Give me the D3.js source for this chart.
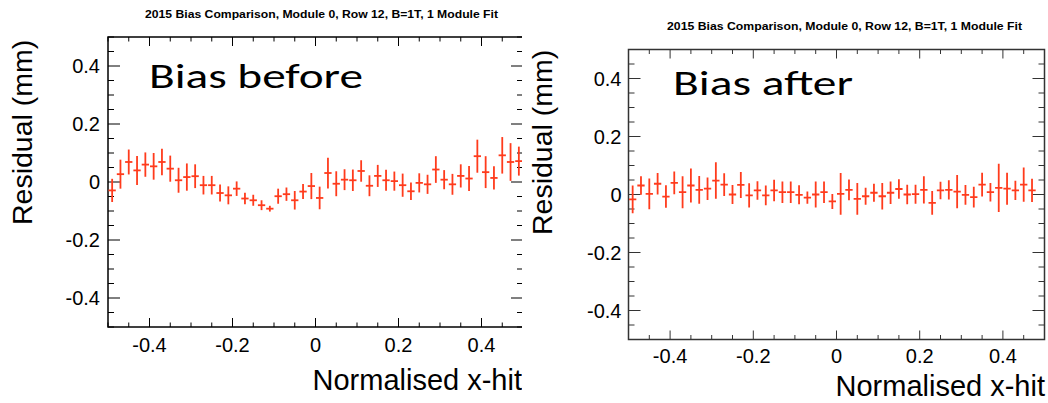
<!DOCTYPE html>
<html>
<head>
<meta charset="utf-8">
<script src="https://cdn.jsdelivr.net/npm/d3@7"></script>
<style>
body { margin: 0; background: #fff; }
svg { display: block; }
</style>
</head>
<body>
<div id="chart"></div>
<script>
// bin centres of the normalised x-hit histogram
var xBins = [-0.49, -0.47, -0.45, -0.43, -0.41, -0.39, -0.37, -0.35, -0.33, -0.31,
             -0.29, -0.27, -0.25, -0.23, -0.21, -0.19, -0.17, -0.15, -0.13, -0.11,
             -0.09, -0.07, -0.05, -0.03, -0.01, 0.01, 0.03, 0.05, 0.07, 0.09,
             0.11, 0.13, 0.15, 0.17, 0.19, 0.21, 0.23, 0.25, 0.27, 0.29,
             0.31, 0.33, 0.35, 0.37, 0.39, 0.41, 0.43, 0.45, 0.47, 0.49];
var binHalf = 0.01;

var beforeY = [-0.029, 0.027, 0.069, 0.040, 0.060, 0.054, 0.069, 0.046, 0.006, 0.017,
               0.020, -0.011, -0.011, -0.038, -0.046, -0.023, -0.057, -0.063, -0.080, -0.092,
               -0.049, -0.042, -0.063, -0.033, -0.014, -0.055, 0.031, -0.006, 0.008, 0.006,
               0.038, -0.013, 0.021, 0.006, 0.003, -0.011, -0.032, -0.003, -0.008, 0.043,
               0.008, -0.008, 0.021, 0.012, 0.089, 0.034, 0.014, 0.092, 0.069, 0.072];
var beforeErr = [0.040, 0.050, 0.043, 0.050, 0.042, 0.046, 0.046, 0.045, 0.043, 0.047,
                 0.041, 0.032, 0.032, 0.029, 0.031, 0.025, 0.020, 0.019, 0.017, 0.010,
                 0.026, 0.023, 0.032, 0.026, 0.045, 0.039, 0.053, 0.043, 0.036, 0.037,
                 0.037, 0.036, 0.038, 0.036, 0.033, 0.040, 0.030, 0.033, 0.033, 0.046,
                 0.033, 0.036, 0.040, 0.043, 0.057, 0.055, 0.040, 0.063, 0.065, 0.050];

var afterY = [-0.017, 0.031, 0.002, 0.037, -0.007, 0.040, 0.008, 0.031, 0.016, 0.020,
              0.048, 0.034, 0.000, 0.033, -0.003, 0.014, -0.003, 0.014, 0.008, 0.008,
              -0.001, -0.011, 0.000, 0.008, -0.024, 0.002, 0.016, -0.015, -0.006, 0.006,
              -0.006, 0.006, 0.019, 0.000, 0.001, 0.016, -0.029, 0.014, 0.016, 0.010,
              -0.001, -0.009, 0.034, 0.008, 0.023, 0.020, 0.014, 0.034, 0.014, null];
var afterErr = [0.048, 0.032, 0.053, 0.037, 0.039, 0.039, 0.055, 0.059, 0.048, 0.039,
                0.063, 0.039, 0.033, 0.045, 0.042, 0.032, 0.034, 0.037, 0.037, 0.037,
                0.033, 0.021, 0.045, 0.037, 0.026, 0.072, 0.036, 0.055, 0.029, 0.031,
                0.046, 0.039, 0.034, 0.034, 0.033, 0.047, 0.041, 0.030, 0.033, 0.057,
                0.034, 0.036, 0.041, 0.032, 0.083, 0.055, 0.033, 0.059, 0.040, null];

var xMajor = [-0.4, -0.2, 0, 0.2, 0.4];
var yMajor = [-0.4, -0.2, 0, 0.2, 0.4];
var titleText = "2015 Bias Comparison, Module 0, Row 12, B=1T, 1 Module Fit";
var xTitle = "Normalised x-hit";
var yTitle = "Residual (mm)";

var RED = "#ff3b1c";
var TICKFONT = "'Liberation Sans', Arial, Helvetica, sans-serif";

var svg = d3.select("#chart").append("svg")
    .attr("width", 1048)
    .attr("height", 403);

var defs = svg.append("defs");

function fmt(d) {
    return String(Math.round(d * 10) / 10);
}

function drawPanel(p) {
    var x = d3.scaleLinear().domain([-0.5, 0.5]).range([p.x0, p.x1]);
    var y = d3.scaleLinear().domain([-0.5, 0.5]).range([p.y1, p.y0]);

    defs.append("clipPath").attr("id", "cut_" + p.id)
        .append("rect")
        .attr("x", p.cutX0).attr("y", 0)
        .attr("width", p.cutX1 - p.cutX0).attr("height", 403);
    defs.append("clipPath").attr("id", "plot_" + p.id)
        .append("rect")
        .attr("x", p.x0).attr("y", p.y0)
        .attr("width", p.x1 - p.x0).attr("height", p.y1 - p.y0);

    var g = svg.append("g").attr("clip-path", "url(#cut_" + p.id + ")");

    // title
    g.append("text")
        .attr("x", p.titleX).attr("y", p.titleY)
        .attr("font-family", TICKFONT).attr("font-weight", "bold")
        .attr("font-size", 10)
        .attr("textLength", p.titleLen).attr("lengthAdjust", "spacingAndGlyphs")
        .text(titleText);

    // minor ticks every 0.05, major every 0.2
    var minor = x.ticks(20).filter(function(v) {
        return Math.abs(Math.round(v * 5) - v * 5) > 1e-6;
    });

    var ax = g.append("g").attr("stroke", p.frame).attr("stroke-width", 1);
    // bottom & top
    ax.selectAll(".xb").data(xMajor.concat(minor)).enter().append("line")
        .attr("x1", function(d) { return x(d); }).attr("x2", function(d) { return x(d); })
        .attr("y1", p.y1)
        .attr("y2", function(d) { return p.y1 - (xMajor.indexOf(d) >= 0 ? 9 : 4.5); });
    ax.selectAll(".xt").data(xMajor.concat(minor)).enter().append("line")
        .attr("x1", function(d) { return x(d); }).attr("x2", function(d) { return x(d); })
        .attr("y1", p.y0)
        .attr("y2", function(d) { return p.y0 + (xMajor.indexOf(d) >= 0 ? 9 : 4.5); });
    // left & right
    var yminor = y.ticks(20).filter(function(v) {
        return Math.abs(Math.round(v * 5) - v * 5) > 1e-6;
    });
    ax.selectAll(".yl").data(yMajor.concat(yminor)).enter().append("line")
        .attr("y1", function(d) { return y(d); }).attr("y2", function(d) { return y(d); })
        .attr("x1", p.x0)
        .attr("x2", function(d) { return p.x0 + (yMajor.indexOf(d) >= 0 ? 12 : 6); });
    ax.selectAll(".yr").data(yMajor.concat(yminor)).enter().append("line")
        .attr("y1", function(d) { return y(d); }).attr("y2", function(d) { return y(d); })
        .attr("x1", p.x1)
        .attr("x2", function(d) { return p.x1 - (yMajor.indexOf(d) >= 0 ? 12 : 6); });

    g.append("rect")
        .attr("x", p.x0).attr("y", p.y0)
        .attr("width", p.x1 - p.x0).attr("height", p.y1 - p.y0)
        .attr("fill", "none").attr("stroke", p.frame).attr("stroke-width", 1.5);

    // tick labels
    g.selectAll(".xlab").data(xMajor).enter().append("text")
        .attr("x", function(d) { return x(d); })
        .attr("y", p.xTickY)
        .attr("text-anchor", "middle")
        .attr("font-family", TICKFONT).attr("font-size", 20)
        .text(fmt);
    g.selectAll(".ylab").data(yMajor).enter().append("text")
        .attr("x", p.yTickX)
        .attr("y", function(d) { return y(d) + 7; })
        .attr("text-anchor", "end")
        .attr("font-family", TICKFONT).attr("font-size", 20)
        .text(fmt);

    // axis titles
    g.append("text")
        .attr("x", p.xTitleX).attr("y", p.xTitleY)
        .attr("text-anchor", "end")
        .attr("font-family", TICKFONT).attr("font-size", 29)
        .text(xTitle);
    g.append("text")
        .attr("transform", "translate(" + p.yTitleX + "," + p.yTitleY + ") rotate(-90)")
        .attr("font-family", TICKFONT).attr("font-size", 28.5)
        .text(yTitle);

    // big annotation
    g.append("text")
        .attr("x", p.bigX).attr("y", p.bigY)
        .attr("font-family", "Carlito, 'Open Sans', Lato, sans-serif").attr("font-size", 35)
        .attr("textLength", p.bigLen).attr("lengthAdjust", "spacingAndGlyphs")
        .text(p.big);

    // data points with errors
    var pts = xBins.map(function(c, i) {
        return {x: c, v: p.values[i], e: p.errs[i]};
    }).filter(function(d) { return d.v !== null; });

    var dg = g.append("g")
        .attr("clip-path", "url(#plot_" + p.id + ")")
        .attr("stroke", RED).attr("stroke-width", 1.8);
    dg.selectAll(".eb").data(pts).enter().append("line")
        .attr("x1", function(d) { return x(d.x); })
        .attr("x2", function(d) { return x(d.x); })
        .attr("y1", function(d) { return y(d.v - d.e); })
        .attr("y2", function(d) { return y(d.v + d.e); });
    dg.selectAll(".hb").data(pts).enter().append("line")
        .attr("x1", function(d) { return x(d.x - binHalf) + 0.5; })
        .attr("x2", function(d) { return x(d.x + binHalf) - 0.5; })
        .attr("y1", function(d) { return y(d.v); })
        .attr("y2", function(d) { return y(d.v); });
}

drawPanel({
    id: "before", x0: 108, x1: 523, y0: 37, y1: 327,
    cutX0: 0, cutX1: 522,
    frame: "#000",
    titleX: 145, titleY: 18, titleLen: 353,
    xTickY: 352, yTickX: 100,
    xTitleX: 522, xTitleY: 390,
    yTitleX: 32, yTitleY: 225,
    big: "Bias before", bigX: 149, bigY: 88, bigLen: 214,
    values: beforeY, errs: beforeErr
});

drawPanel({
    id: "after", x0: 628.5, x1: 1044.5, y0: 49.5, y1: 339.5,
    cutX0: 524, cutX1: 1048,
    frame: "#333",
    titleX: 667, titleY: 30, titleLen: 355,
    xTickY: 363, yTickX: 621.5,
    xTitleX: 1045, xTitleY: 396,
    yTitleX: 552, yTitleY: 235,
    big: "Bias after", bigX: 673, bigY: 95, bigLen: 180,
    values: afterY, errs: afterErr
});
</script>
</body>
</html>
